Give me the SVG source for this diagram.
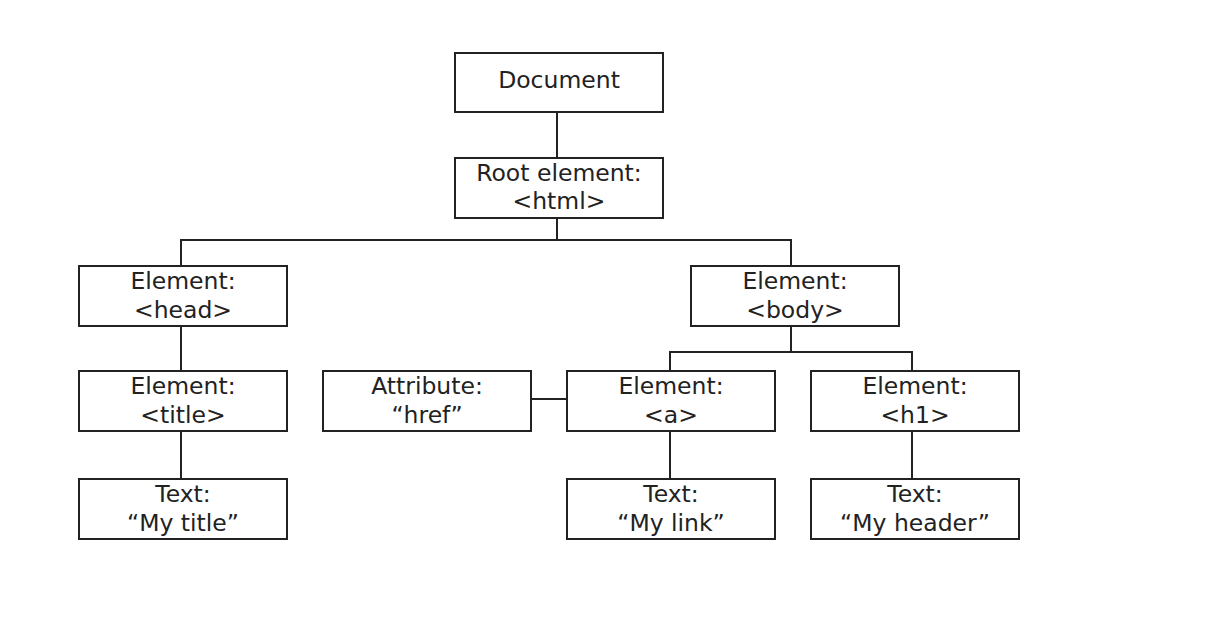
<svg xmlns="http://www.w3.org/2000/svg" width="1232" height="628" viewBox="0 0 1232 628">
<style>
.box{fill:#fff;stroke:#222;stroke-width:2}
.t{font-family:"DejaVu Sans",Verdana,sans-serif;font-size:23.5px;fill:#222;text-anchor:middle}
.c{fill:none;stroke:#222;stroke-width:2}
</style>
<rect width="1232" height="628" fill="#fff"/>
<g id="connectors">
<path class="c" d="M557 112V158"/>
<path class="c" d="M557 218V240M181 266V240H791V266"/>
<path class="c" d="M181 326V371"/>
<path class="c" d="M181 431V479"/>
<path class="c" d="M791 326V352M670 371V352H912V371"/>
<path class="c" d="M531 399H567"/>
<path class="c" d="M670 431V479"/>
<path class="c" d="M912 431V479"/>
</g>
<g id="document"><rect class="box" x="455" y="53" width="208" height="59"/><text class="t" x="559" y="88">Document</text></g>
<g id="root"><rect class="box" x="455" y="158" width="208" height="60"/><text class="t" x="559" y="181">Root element:</text><text class="t" x="559" y="209">&lt;html&gt;</text></g>
<g id="head"><rect class="box" x="79" y="266" width="208" height="60"/><text class="t" x="183" y="289">Element:</text><text class="t" x="183" y="318">&lt;head&gt;</text></g>
<g id="body"><rect class="box" x="691" y="266" width="208" height="60"/><text class="t" x="795" y="289">Element:</text><text class="t" x="795" y="318">&lt;body&gt;</text></g>
<g id="title"><rect class="box" x="79" y="371" width="208" height="60"/><text class="t" x="183" y="394">Element:</text><text class="t" x="183" y="423">&lt;title&gt;</text></g>
<g id="attribute"><rect class="box" x="323" y="371" width="208" height="60"/><text class="t" x="427" y="394">Attribute:</text><text class="t" x="427" y="423">“href”</text></g>
<g id="a"><rect class="box" x="567" y="371" width="208" height="60"/><text class="t" x="671" y="394">Element:</text><text class="t" x="671" y="423">&lt;a&gt;</text></g>
<g id="h1"><rect class="box" x="811" y="371" width="208" height="60"/><text class="t" x="915" y="394">Element:</text><text class="t" x="915" y="423">&lt;h1&gt;</text></g>
<g id="text-title"><rect class="box" x="79" y="479" width="208" height="60"/><text class="t" x="183" y="502">Text:</text><text class="t" x="183" y="531">“My title”</text></g>
<g id="text-link"><rect class="box" x="567" y="479" width="208" height="60"/><text class="t" x="671" y="502">Text:</text><text class="t" x="671" y="531">“My link”</text></g>
<g id="text-header"><rect class="box" x="811" y="479" width="208" height="60"/><text class="t" x="915" y="502">Text:</text><text class="t" x="915" y="531">“My header”</text></g>
</svg>
